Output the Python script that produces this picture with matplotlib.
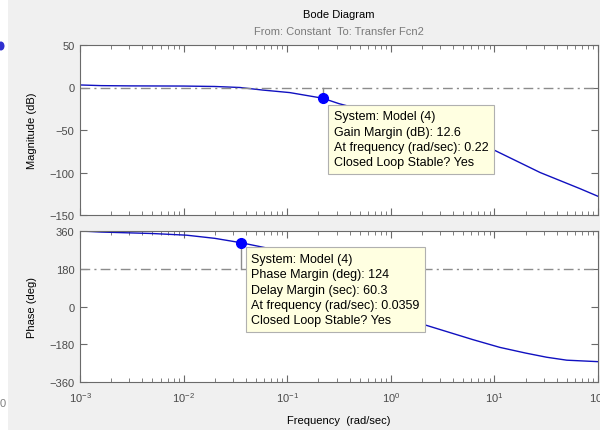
import numpy as np
import matplotlib
matplotlib.use('Agg')
import matplotlib.pyplot as plt
from matplotlib.patches import Rectangle, Ellipse

plt.rcParams['font.family'] = ['Liberation Sans', 'DejaVu Sans']
plt.rcParams['font.size'] = 8
plt.rcParams['mathtext.fontset'] = 'custom'
plt.rcParams['mathtext.rm'] = 'Liberation Sans'

# magnitude response
mag_freq = [0.001, 0.0016, 0.003, 0.01, 0.02, 0.035, 0.058, 0.106, 0.22, 0.316,
            0.6, 1.0, 2.0, 4.0, 9.7, 27.6, 67.0, 100.0]
mag_db = [3.0, 2.2, 1.9, 1.7, 1.2, 0.0, -3.0, -6.0, -12.6, -19.0,
          -28.0, -35.0, -46.0, -58.0, -73.0, -100.0, -119.0, -128.0]

# phase response
ph_freq = [0.001, 0.0016, 0.005, 0.0107, 0.02, 0.0359, 0.062, 0.1, 0.22, 0.5,
           1.0, 2.05, 6.2, 11.3, 20.0, 32.0, 50.0, 100.0]
ph_deg = [360, 355, 348, 340, 325, 304, 280, 252, 175, 65,
          -25, -85, -158, -195, -222, -242, -256, -263]

# stability margins
gm_freq, gm_db = 0.22, -12.6
pm_freq, pm_deg = 0.0359, 304

gm_text = ('System: Model (4)\nGain Margin (dB): 12.6\n'
           'At frequency (rad/sec): 0.22\nClosed Loop Stable? Yes')
pm_text = ('System: Model (4)\nPhase Margin (deg): 124\nDelay Margin (sec): 60.3\n'
           'At frequency (rad/sec): 0.0359\nClosed Loop Stable? Yes')

line_col = '#1010c0'
axis_col = '#6a6a6a'
label_col = '#4a4a4a'

fig = plt.figure(figsize=(6, 4.31), dpi=100, facecolor='#f0f0f0')

# cropped-screenshot leftovers on the left edge
fig.patches.append(Rectangle((0, 0), 8 / 600, 1, transform=fig.transFigure,
                             facecolor='white', edgecolor='none'))
fig.patches.append(Ellipse((1 / 600, 1 - 47 / 431), 7 / 600, 9 / 431,
                           transform=fig.transFigure, facecolor='#3030d0',
                           edgecolor='none'))
fig.text(3 / 600, 1 - 404 / 431, '0', color='#808080', ha='center', va='center')

ax1 = fig.add_axes([80 / 600, 1 - 216 / 431, 518 / 600, 170 / 431])
ax2 = fig.add_axes([80 / 600, 1 - 383 / 431, 518 / 600, 151 / 431])

for ax in (ax1, ax2):
    ax.set_xscale('log')
    ax.set_xlim(1e-3, 1e2)
    ax.tick_params(which='both', direction='in', top=True, right=True,
                   colors=axis_col, labelcolor=label_col, labelsize=8, pad=4)
    ax.tick_params(which='major', length=5)
    ax.tick_params(which='minor', length=3)
    for s in ax.spines.values():
        s.set_color(axis_col)
    ax.set_facecolor('white')

box = dict(boxstyle='square,pad=0.42', facecolor='#ffffe1',
           edgecolor='#b0b0b0', lw=0.8)

# magnitude
ax1.plot(mag_freq, mag_db, color=line_col, lw=1)
ax1.axhline(0, color='#8c8c8c', lw=1, dashes=[7, 3, 1.5, 3])
ax1.plot([gm_freq, gm_freq], [0, gm_db], color='#8c8c8c', lw=1)
ax1.plot(gm_freq, gm_db, 'o', color='#0000ff', ms=7)
ax1.set_ylim(-150, 50)
ax1.set_yticks([-150, -100, -50, 0, 50])
ax1.tick_params(labelbottom=False)
ax1.set_ylabel('Magnitude (dB)', color='black')
ax1.annotate(gm_text, xy=(gm_freq, gm_db), xytext=(11, -12),
             textcoords='offset pixels', ha='left', va='top', fontsize=9,
             linespacing=1.38, bbox=box)

# phase
ax2.plot(ph_freq, ph_deg, color=line_col, lw=1)
ax2.axhline(180, color='#8c8c8c', lw=1, dashes=[7, 3, 1.5, 3])
ax2.plot([pm_freq, pm_freq], [180, pm_deg], color='#8c8c8c', lw=1)
ax2.plot(pm_freq, pm_deg, 'o', color='#0000ff', ms=7)
ax2.set_ylim(-360, 360)
ax2.set_yticks([-360, -180, 0, 180, 360])
ax2.set_ylabel('Phase (deg)', color='black')
ax2.annotate(pm_text, xy=(pm_freq, pm_deg), xytext=(10, -10),
             textcoords='offset pixels', ha='left', va='top', fontsize=9,
             linespacing=1.38, bbox=box)
ax2.tick_params(axis='x', pad=6)

for ax in (ax1, ax2):
    ax.yaxis.set_label_coords(-0.083, 0.5)

fig.text(339 / 600, 1 - 15 / 431, 'Bode Diagram', ha='center', va='center',
         color='black')
fig.text(339 / 600, 1 - 32 / 431, 'From: Constant  To: Transfer Fcn2',
         ha='center', va='center', color='#7a7a7a')
fig.text(339 / 600, 1 - 421 / 431, 'Frequency  (rad/sec)', ha='center',
         va='center', color='black')

fig.savefig('out.png', dpi=100, facecolor=fig.get_facecolor())
